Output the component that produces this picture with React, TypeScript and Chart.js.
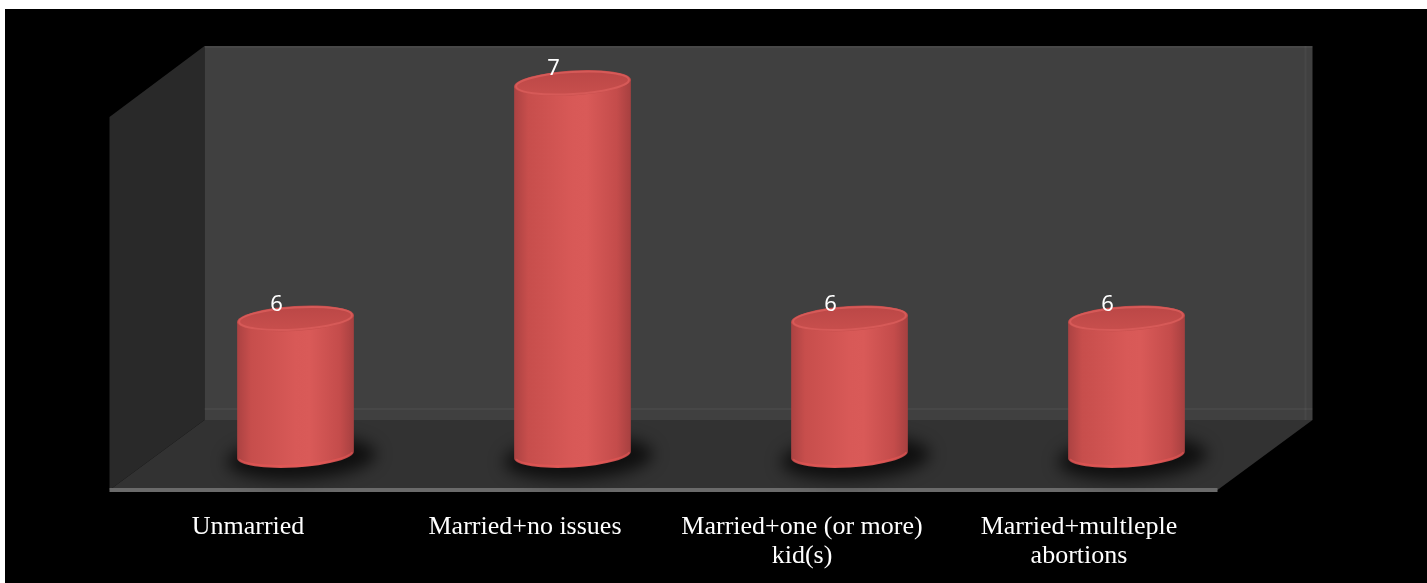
import { useEffect, useRef } from "react";
import { Chart, registerables } from "chart.js";
import type { Plugin, ChartConfiguration } from "chart.js";

Chart.register(...registerables);

// Survey groups and the count recorded for each
const categories: (string | string[])[] = [
  "Unmarried",
  "Married+no issues",
  ["Married+one (or more)", "kid(s)"],
  ["Married+multleple", "abortions"],
];
const counts: number[] = [6, 7, 6, 6];

// Value axis range (the axis itself is hidden)
const axisMin = 5.42;
const axisMax = 7.2;

// Half of the 3-D depth offset between the back wall and the front edge
const DEPTH_X = 47.5;
const DEPTH_Y = 35;
const TILT = -0.06;
const CAP_RY = 12.5;

// Back wall, side wall and floor of the 3-D plot box
const boxPlugin: Plugin<"bar"> = {
  id: "box3d",
  beforeDatasetsDraw(chart) {
    const { ctx, chartArea } = chart;
    const { left, right, top, bottom } = chartArea;
    const bx0 = left + DEPTH_X;
    const bx1 = right + DEPTH_X;
    const fx0 = left - DEPTH_X;
    const fx1 = right - DEPTH_X;
    const backY = bottom - DEPTH_Y;
    const frontY = bottom + DEPTH_Y;
    const wallTop = top + 10;
    ctx.save();

    // left side wall
    ctx.fillStyle = "#292929";
    ctx.beginPath();
    ctx.moveTo(bx0, wallTop);
    ctx.lineTo(bx0, backY);
    ctx.lineTo(fx0, frontY);
    ctx.lineTo(fx0, wallTop + 2 * DEPTH_Y + 1);
    ctx.closePath();
    ctx.fill();

    // back wall
    ctx.fillStyle = "#404040";
    ctx.fillRect(bx0, wallTop, bx1 - bx0, backY - wallTop);
    ctx.fillStyle = "rgba(255,255,255,0.04)";
    ctx.fillRect(bx0, wallTop, bx1 - bx0, 2);
    ctx.fillRect(bx1 - 8, wallTop, 2, backY - wallTop);
    ctx.fillRect(bx0, backY - 12, bx1 - bx0, 2);

    // floor
    ctx.fillStyle = "#323232";
    ctx.beginPath();
    ctx.moveTo(bx0, backY);
    ctx.lineTo(bx1, backY);
    ctx.lineTo(fx1, frontY);
    ctx.lineTo(fx0, frontY);
    ctx.closePath();
    ctx.fill();

    // front edge of the floor
    ctx.fillStyle = "#6a6a6a";
    ctx.fillRect(fx0, frontY - 2, fx1 - fx0, 4);
    ctx.restore();
  },
};

// Cylinders, their floor shadows and the value labels
const cylinderPlugin: Plugin<"bar"> = {
  id: "cylinders",
  afterDatasetsDraw(chart) {
    const { ctx, chartArea } = chart;
    const meta = chart.getDatasetMeta(0);
    const values = chart.data.datasets[0].data as number[];
    ctx.save();

    const bars = meta.data.map((el: any) => {
      const p = el.getProps(["x", "y", "base", "width"], true);
      return { x: p.x, y: p.y, width: p.width, base: Math.min(p.base, chartArea.bottom) };
    });

    bars.forEach(({ x, base, width }) => {
      const a = width / 2;
      ctx.save();
      ctx.filter = "blur(8px)";
      ctx.fillStyle = "rgba(0,0,0,0.7)";
      ctx.beginPath();
      ctx.ellipse(x + 6, base + 3, a + 16, CAP_RY + 9, TILT, 0, Math.PI * 2);
      ctx.fill();
      ctx.restore();
    });

    bars.forEach(({ x, y, base, width }, i) => {
      const a = width / 2;
      const b = CAP_RY;
      const cx = Math.cos(TILT) * a;
      const cy = Math.sin(TILT) * a;

      const grad = ctx.createLinearGradient(x - a, 0, x + a, 0);
      grad.addColorStop(0, "#ab4242");
      grad.addColorStop(0.12, "#c74e4c");
      grad.addColorStop(0.5, "#d85957");
      grad.addColorStop(0.62, "#d95a58");
      grad.addColorStop(0.88, "#c44c4b");
      grad.addColorStop(1, "#a64040");

      // side surface
      ctx.fillStyle = grad;
      ctx.beginPath();
      ctx.moveTo(x - cx, y - cy);
      ctx.lineTo(x + cx, y + cy);
      ctx.lineTo(x + cx, base + cy);
      ctx.ellipse(x, base, a, b, TILT, 0, Math.PI, false);
      ctx.closePath();
      ctx.fill();

      // lower rim
      ctx.strokeStyle = "rgba(235,90,88,0.55)";
      ctx.lineWidth = 2;
      ctx.beginPath();
      ctx.ellipse(x, base - 1, a - 1, b - 1, TILT, 0.15, Math.PI - 0.15, false);
      ctx.stroke();

      // top cap
      const capGrad = ctx.createLinearGradient(x, y - b, x, y + b);
      capGrad.addColorStop(0, "#bb4746");
      capGrad.addColorStop(1, "#c84f4d");
      ctx.fillStyle = capGrad;
      ctx.beginPath();
      ctx.ellipse(x, y, a, b, TILT, 0, Math.PI * 2);
      ctx.fill();
      ctx.strokeStyle = "#d65a58";
      ctx.lineWidth = 2;
      ctx.beginPath();
      ctx.ellipse(x, y, a - 2, b - 1.5, TILT, 0, Math.PI * 2);
      ctx.stroke();

      // value label
      ctx.fillStyle = "#ffffff";
      ctx.font = '22px "Noto Sans", sans-serif';
      ctx.textAlign = "center";
      ctx.textBaseline = "middle";
      ctx.fillText(String(values[i]), x - 19, y - 14);
    });
    ctx.restore();
  },
};

export default function App() {
  const canvasRef = useRef<HTMLCanvasElement | null>(null);

  useEffect(() => {
    const canvas = canvasRef.current;
    if (!canvas) return;
    const config: ChartConfiguration<"bar"> = {
      type: "bar",
      data: {
        labels: categories,
        datasets: [
          {
            data: counts,
            base: axisMin,
            backgroundColor: "rgba(0,0,0,0)",
            borderWidth: 0,
            barPercentage: 0.422,
            categoryPercentage: 1,
          },
        ],
      },
      options: {
        responsive: false,
        animation: false,
        devicePixelRatio: 1,
        layout: { padding: { left: 152, right: 162, top: 27, bottom: 0 } },
        plugins: {
          legend: { display: false },
          tooltip: { enabled: false },
        },
        scales: {
          x: {
            grid: { display: false, drawTicks: false },
            border: { display: false },
            ticks: {
              color: "#ffffff",
              font: { family: '"Liberation Serif", "Times New Roman", serif', size: 26, lineHeight: 1.1 },
              padding: 58,
              labelOffset: -47.5,
              maxRotation: 0,
              minRotation: 0,
              autoSkip: false,
            },
            afterFit: (scale: any) => {
              scale.height = 128;
            },
          },
          y: { display: false, min: axisMin, max: axisMax },
        },
      },
      plugins: [boxPlugin, cylinderPlugin],
    };
    const chart = new Chart(canvas, config);
    return () => chart.destroy();
  }, []);

  return (
    <div style={{ position: "fixed", left: 0, top: 0, width: 1427, height: 583, background: "#ffffff", overflow: "hidden" }}>
      <div style={{ position: "absolute", left: 5, top: 9, width: 1422, height: 574, background: "#000000" }}>
        <canvas ref={canvasRef} width={1422} height={574} style={{ display: "block" }} />
      </div>
    </div>
  );
}
